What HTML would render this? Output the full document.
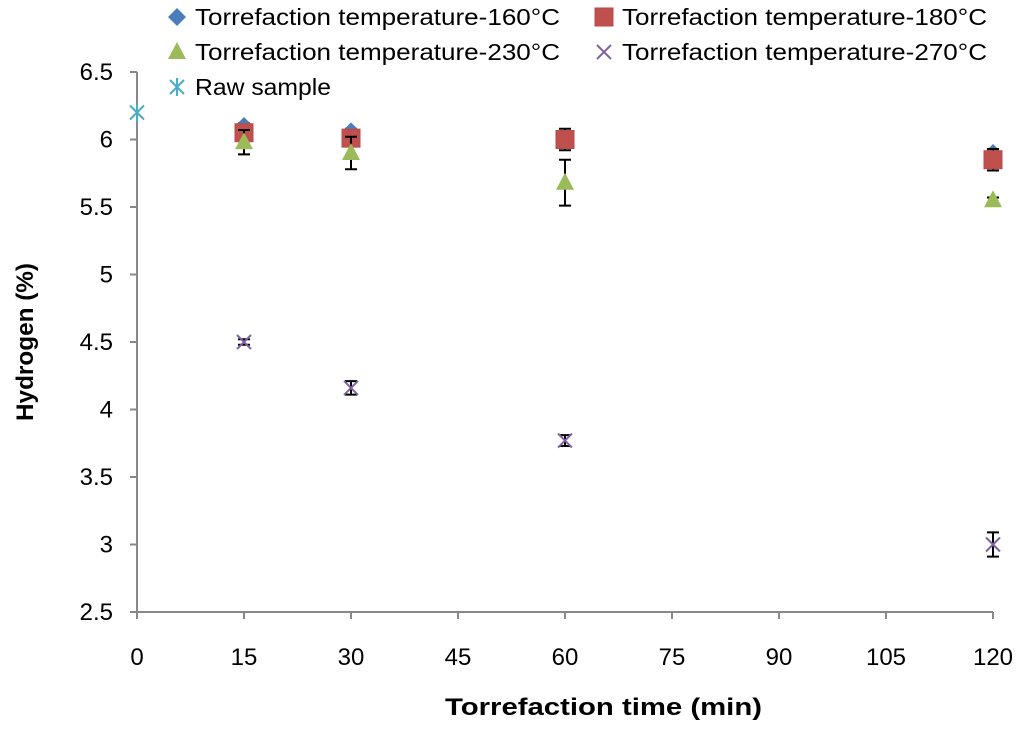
<!DOCTYPE html>
<html><head><meta charset="utf-8"><style>
body{margin:0;background:#fff;font-family:"Liberation Sans",sans-serif}
svg text{font-family:"Liberation Sans",sans-serif}
</style></head><body>
<svg id="c" width="1024" height="726"></svg>
<script>
const xTicks=[0,15,30,45,60,75,90,105,120];
const yTicks=[2.5,3,3.5,4,4.5,5,5.5,6,6.5];
const times=[15,30,60,120];
const h160=[6.1,6.06,6.0,5.9];
const h180=[6.05,6.01,6.0,5.85];
const h230=[5.98,5.9,5.68,5.55];
const h270=[4.5,4.16,3.77,3.0];
const e160=[0.02,0.02,0.08,0.03];
const e180=[0.03,0.03,0.02,0.08];
const e230=[0.09,0.12,0.17,0.02];
const e270=[0.02,0.05,0.04,0.09];
const rawX=[0];const rawY=[6.2];
const NS="http://www.w3.org/2000/svg";
const svg=document.getElementById('c');
const X=v=>137+v/120*856;
const Y=v=>612-(v-2.5)/4*540;
function el(t,a,p){const e=document.createElementNS(NS,t);for(const k in a)e.setAttribute(k,a[k]);(p||svg).appendChild(e);return e;}
let ax=el('line',{x1:137,y1:72,x2:137,y2:612,stroke:'#888','stroke-width':2});

let bx=el('line',{x1:130,y1:612,x2:993,y2:612,stroke:'#888','stroke-width':2});

yTicks.forEach(v=>{el('line',{x1:130,y1:Y(v),x2:137,y2:Y(v),stroke:'#888','stroke-width':2});
let t=el('text',{x:113,y:Y(v)+8,'text-anchor':'end','font-size':24});t.textContent=v;
});
xTicks.forEach(v=>{el('line',{x1:X(v),y1:612,x2:X(v),y2:619,stroke:'#888','stroke-width':2});
let t=el('text',{x:X(v),y:665,'text-anchor':'middle','font-size':24});t.textContent=v;
});
let xt=el('text',{x:445,y:715,'font-size':24,'font-weight':'bold',textLength:317,lengthAdjust:'spacingAndGlyphs'});xt.textContent='Torrefaction time (min)';

let yt=el('text',{x:-421,y:0,'font-size':24,'font-weight':'bold',textLength:158,lengthAdjust:'spacingAndGlyphs',transform:'translate(33,0) rotate(-90)'});yt.textContent='Hydrogen (%)';

function marker(type,cx,cy,g){
 if(type==='d')el('polygon',{points:`${cx},${cy-9} ${cx+9},${cy} ${cx},${cy+9} ${cx-9},${cy}`,fill:'#4a7ebb'},g);
 if(type==='s')el('rect',{x:cx-9,y:cy-9,width:18,height:18,fill:'#c0504d',stroke:'#b84a47'},g);
 if(type==='t')el('polygon',{points:`${cx},${cy-10} ${cx+9},${cy+7} ${cx-9},${cy+7}`,fill:'#9bbb59'},g);
 if(type==='x'){el('path',{d:`M${cx-7} ${cy-7}L${cx+7} ${cy+7}M${cx+7} ${cy-7}L${cx-7} ${cy+7}`,stroke:'#7f63a0','stroke-width':2},g);}
 if(type==='a'){el('path',{d:`M${cx-7} ${cy-7}L${cx+7} ${cy+7}M${cx+7} ${cy-7}L${cx-7} ${cy+7}M${cx} ${cy-9}L${cx} ${cy+9}`,stroke:'#4bacc6','stroke-width':2},g);}
}
function series(name,type,ys,es){
 const g=el('g',{});
 times.forEach((t,i)=>{const cx=X(t),y1=Y(ys[i]+es[i]),y2=Y(ys[i]-es[i]);
  el('path',{d:`M${cx} ${y1}V${y2}M${cx-6} ${y1}H${cx+6}M${cx-6} ${y2}H${cx+6}`,stroke:'#000','stroke-width':2},g);});
 times.forEach((t,i)=>marker(type,X(t),Y(ys[i]),g));
}
series('series-160','d',h160,e160);
series('series-180','s',h180,e180);
series('series-230','t',h230,e230);
series('series-270','x',h270,e270);
const rg=el('g',{});
rawX.forEach((v,i)=>marker('a',X(v),Y(rawY[i]),rg));
const leg=[['d',177,17,'Torrefaction temperature-160°C',365],['s',604,17,'Torrefaction temperature-180°C',365],['t',177,52,'Torrefaction temperature-230°C',365],['x',604,52,'Torrefaction temperature-270°C',365],['a',177,87,'Raw sample',136]];
leg.forEach(l=>{const g=el('g',{});
 marker(l[0],l[1],l[2],g);const t=el('text',{x:l[1]+18,y:l[2]+8,'font-size':23,textLength:l[4],lengthAdjust:'spacingAndGlyphs'},g);t.textContent=l[3];});
</script>
</body></html>
